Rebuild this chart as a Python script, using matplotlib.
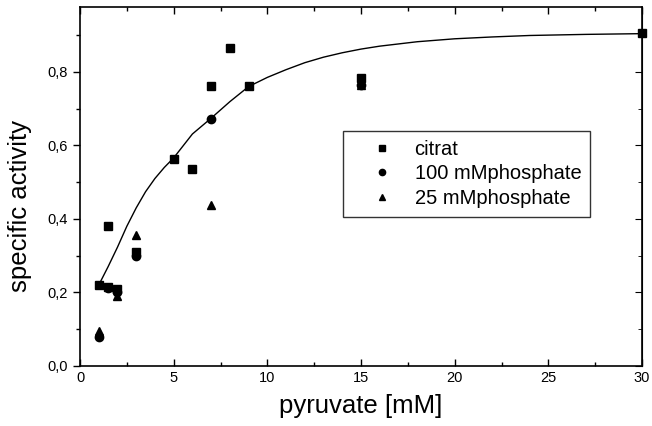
import matplotlib
matplotlib.use("Agg")
import matplotlib.pyplot as plt
from matplotlib.ticker import MultipleLocator, FuncFormatter

plt.rcParams['font.family'] = ['Liberation Sans', 'DejaVu Sans']

# citrat (squares)
cit_x = [1, 1.5, 1.5, 2, 3, 5, 6, 7, 8, 9, 15, 30]
cit_y = [0.22, 0.38, 0.216, 0.21, 0.31, 0.563, 0.535, 0.762, 0.865, 0.762, 0.782, 0.905]
# 100 mM phosphate (circles)
p100_x = [1, 1.5, 2, 3, 7, 15]
p100_y = [0.08, 0.213, 0.20, 0.30, 0.672, 0.765]
# 25 mM phosphate (triangles)
p25_x = [1, 2, 3, 7, 15]
p25_y = [0.095, 0.19, 0.355, 0.437, 0.765]
# fitted curve
fit_x = [1, 1.5, 2, 2.5, 3, 3.5, 4, 4.5, 5, 6, 7, 8, 9, 10, 11, 12, 13, 14, 15, 16,
         18, 20, 22, 24, 27, 30]
fit_y = [0.22, 0.27, 0.323, 0.38, 0.43, 0.474, 0.51, 0.54, 0.566, 0.631, 0.674, 0.719,
         0.76, 0.785, 0.806, 0.825, 0.84, 0.852, 0.862, 0.87, 0.882, 0.89, 0.895, 0.899,
         0.902, 0.904]

fig = plt.figure(figsize=(6.52, 4.26), dpi=100)
ax = fig.add_axes([0.1227, 0.141, 0.862, 0.843])

ax.plot(fit_x, fit_y, color='black', lw=1.0)
ax.plot(cit_x, cit_y, 's', color='black', ms=6, label='citrat', clip_on=False)
ax.plot(p100_x, p100_y, 'o', color='black', ms=6, label='100 mMphosphate', clip_on=False)
ax.plot(p25_x, p25_y, '^', color='black', ms=6, label='25 mMphosphate', clip_on=False)

ax.set_xlim(0, 30)
ax.set_ylim(0, 0.977)
ax.xaxis.set_major_locator(MultipleLocator(5))
ax.xaxis.set_minor_locator(MultipleLocator(2.5))
ax.yaxis.set_major_locator(MultipleLocator(0.2))
ax.yaxis.set_minor_locator(MultipleLocator(0.1))
ax.yaxis.set_major_formatter(FuncFormatter(lambda v, p: f"{v:.1f}".replace('.', ',')))

ax.tick_params(axis='both', which='both', labelsize=10.5, width=1)
ax.tick_params(axis='x', which='both', direction='in', top=True)
ax.tick_params(axis='y', which='both', direction='out', left=True)
ax.tick_params(which='major', length=5)
ax.tick_params(which='minor', length=3)
ax.tick_params(axis='x', pad=4)
for s in ax.spines.values():
    s.set_linewidth(1.2)

# right axis with inward ticks
ax2 = ax.secondary_yaxis('right')
ax2.yaxis.set_major_locator(MultipleLocator(0.2))
ax2.yaxis.set_minor_locator(MultipleLocator(0.1))
ax2.tick_params(which='both', direction='in', labelright=False)
ax2.tick_params(which='major', length=5)
ax2.tick_params(which='minor', length=3)

ax.set_xlabel('pyruvate [mM]', fontsize=18.5, labelpad=6)
ax.set_ylabel('specific activity', fontsize=18.5)
ax.yaxis.set_label_coords(-0.085, 0.446)

leg = ax.legend(loc='upper left', bbox_to_anchor=(0.468, 0.655), fontsize=14.5,
                frameon=True, fancybox=False, edgecolor='black', markerscale=0.75,
                handlelength=3.0, handletextpad=0.1, borderpad=0.45, labelspacing=0.27,
                borderaxespad=0)
leg.get_frame().set_linewidth(1.0)

fig.savefig('out.png', dpi=100)
